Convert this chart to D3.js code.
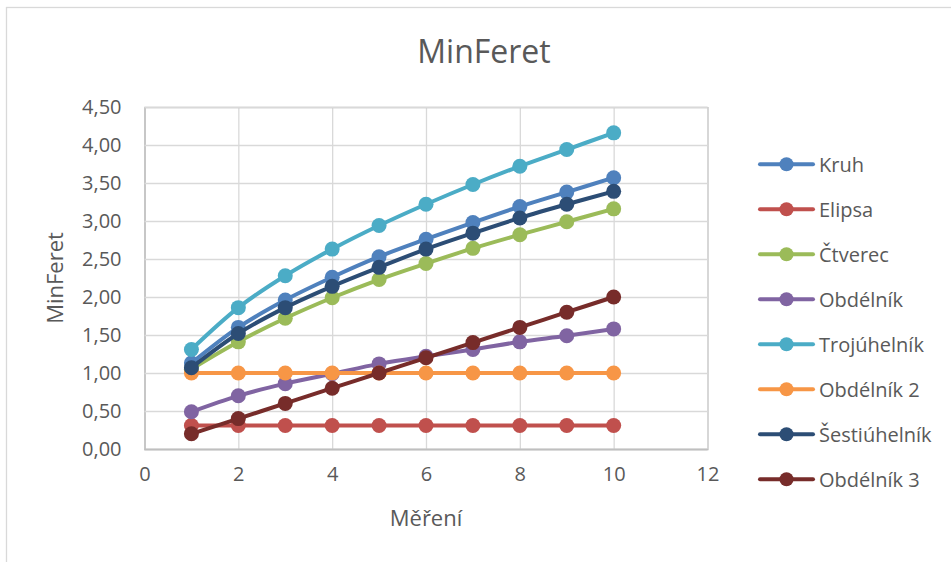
<!DOCTYPE html>
<html>
<head>
<meta charset="utf-8">
<script src="https://cdn.jsdelivr.net/npm/d3@7"></script>
<style>
html,body{margin:0;padding:0;background:#fff;}
svg{display:block;}
text{font-family:"Open Sans",sans-serif;fill:#595959;}
</style>
</head>
<body>
<svg id="chart" width="951" height="562"></svg>
<script>
const xValues = [1, 2, 3, 4, 5, 6, 7, 8, 9, 10];
const seriesNames = ["Kruh", "Elipsa", "Čtverec", "Obdélník", "Trojúhelník", "Obdélník 2", "Šestiúhelník", "Obdélník 3"];
const kruh = [1.13, 1.60, 1.96, 2.26, 2.53, 2.76, 2.98, 3.19, 3.38, 3.57];
const elipsa = [0.31, 0.31, 0.31, 0.31, 0.31, 0.31, 0.31, 0.31, 0.31, 0.31];
const ctverec = [1.05, 1.41, 1.72, 1.99, 2.23, 2.44, 2.64, 2.82, 2.99, 3.16];
const obdelnik = [0.49, 0.70, 0.86, 0.99, 1.12, 1.22, 1.31, 1.41, 1.49, 1.58];
const trojuhelnik = [1.31, 1.86, 2.28, 2.63, 2.94, 3.22, 3.48, 3.72, 3.94, 4.16];
const obdelnik2 = [1.00, 1.00, 1.00, 1.00, 1.00, 1.00, 1.00, 1.00, 1.00, 1.00];
const sestiuhelnik = [1.07, 1.52, 1.86, 2.14, 2.39, 2.63, 2.84, 3.04, 3.22, 3.39];
const obdelnik3 = [0.20, 0.40, 0.60, 0.80, 1.00, 1.20, 1.40, 1.60, 1.80, 2.00];
const xTicks = [0, 2, 4, 6, 8, 10, 12];
const yTicks = [0, 0.5, 1, 1.5, 2, 2.5, 3, 3.5, 4, 4.5];
const colors = ["#4f81bd", "#c0504d", "#9bbb59", "#8064a2", "#4bacc6", "#f79646", "#2c4d75", "#772c2a"];

const seriesValues = [kruh, elipsa, ctverec, obdelnik, trojuhelnik, obdelnik2, sestiuhelnik, obdelnik3];
const series = seriesNames.map((name, i) => ({
  name, color: colors[i],
  points: xValues.map((x, j) => ({x, y: seriesValues[i][j]}))
}));

const svg = d3.select("#chart");
const L = 144.5, R = 707.5, T = 107, B = 449;
const x = d3.scaleLinear().domain([0, 12]).range([L, R]);
const y = d3.scaleLinear().domain([0, 4.5]).range([B, T]);

// chart border
svg.append("rect").attr("x", 6.5).attr("y", 7.5).attr("width", 1000).attr("height", 1000)
  .attr("fill", "none").attr("stroke", "#d9d9d9").attr("stroke-width", 1.3);

// gridlines
const gx = svg.append("g").attr("transform", `translate(0,${B})`)
  .call(d3.axisBottom(x).tickValues(xTicks).tickSize(-(B - T)).tickFormat(d => d).tickPadding(14));
gx.select(".domain").attr("stroke", "#bfbfbf").attr("stroke-width", 1.3);
gx.selectAll(".tick line").attr("stroke", "#d9d9d9").attr("stroke-width", 1.3);
gx.selectAll(".tick text").attr("font-size", 20).attr("fill", "#595959")
  .attr("font-family", '"Open Sans",sans-serif').attr("dy", "0.9em");

const gy = svg.append("g").attr("transform", `translate(${L},0)`)
  .call(d3.axisLeft(y).tickValues(yTicks).tickSize(-(R - L)).tickPadding(23)
    .tickFormat(d => d3.format(".2f")(d).replace(".", ",")));
gy.select(".domain").attr("stroke", "#bfbfbf").attr("stroke-width", 1.3);
gy.selectAll(".tick line").attr("stroke", "#d9d9d9").attr("stroke-width", 1.3);
gy.selectAll(".tick text").attr("font-size", 20).attr("fill", "#595959")
  .attr("font-family", '"Open Sans",sans-serif');
gy.selectAll(".tick").filter(d => d === 0).select("line").attr("stroke", "#bfbfbf");

// lines
const line = d3.line().x(d => x(d.x)).y(d => y(d.y)).curve(d3.curveCatmullRom.alpha(0.5));
series.forEach(s => {
  const g = svg.append("g");
  g.append("path").attr("d", line(s.points)).attr("fill", "none")
    .attr("stroke", s.color).attr("stroke-width", 4).attr("stroke-linejoin", "round").attr("stroke-linecap", "round");
  g.selectAll("circle").data(s.points).join("circle")
    .attr("cx", d => x(d.x)).attr("cy", d => y(d.y)).attr("r", 7.5).attr("fill", s.color);
});

// titles
svg.append("text").attr("x", 484).attr("y", 62.5).attr("text-anchor", "middle")
  .attr("font-size", 32).text("MinFeret");
svg.append("text").attr("x", 426).attr("y", 526).attr("text-anchor", "middle")
  .attr("font-size", 22).text("Měření");
svg.append("text").attr("transform", "translate(63,278) rotate(-90)").attr("text-anchor", "middle")
  .attr("font-size", 22).text("MinFeret");

// legend
const legend = svg.append("g");
const ly = d3.scalePoint().domain(seriesNames).range([164.3, 479.3]);
series.forEach(s => {
  const g = legend.append("g").attr("transform", `translate(0,${ly(s.name)})`);
  g.append("line").attr("x1", 760).attr("x2", 813).attr("y1", 0).attr("y2", 0)
    .attr("stroke", s.color).attr("stroke-width", 4).attr("stroke-linecap", "round");
  g.append("circle").attr("cx", 786.5).attr("cy", 0).attr("r", 7).attr("fill", s.color);
  g.append("text").attr("x", 819).attr("y", 7.5).attr("font-size", 20).text(s.name);
});
</script>
</body>
</html>
